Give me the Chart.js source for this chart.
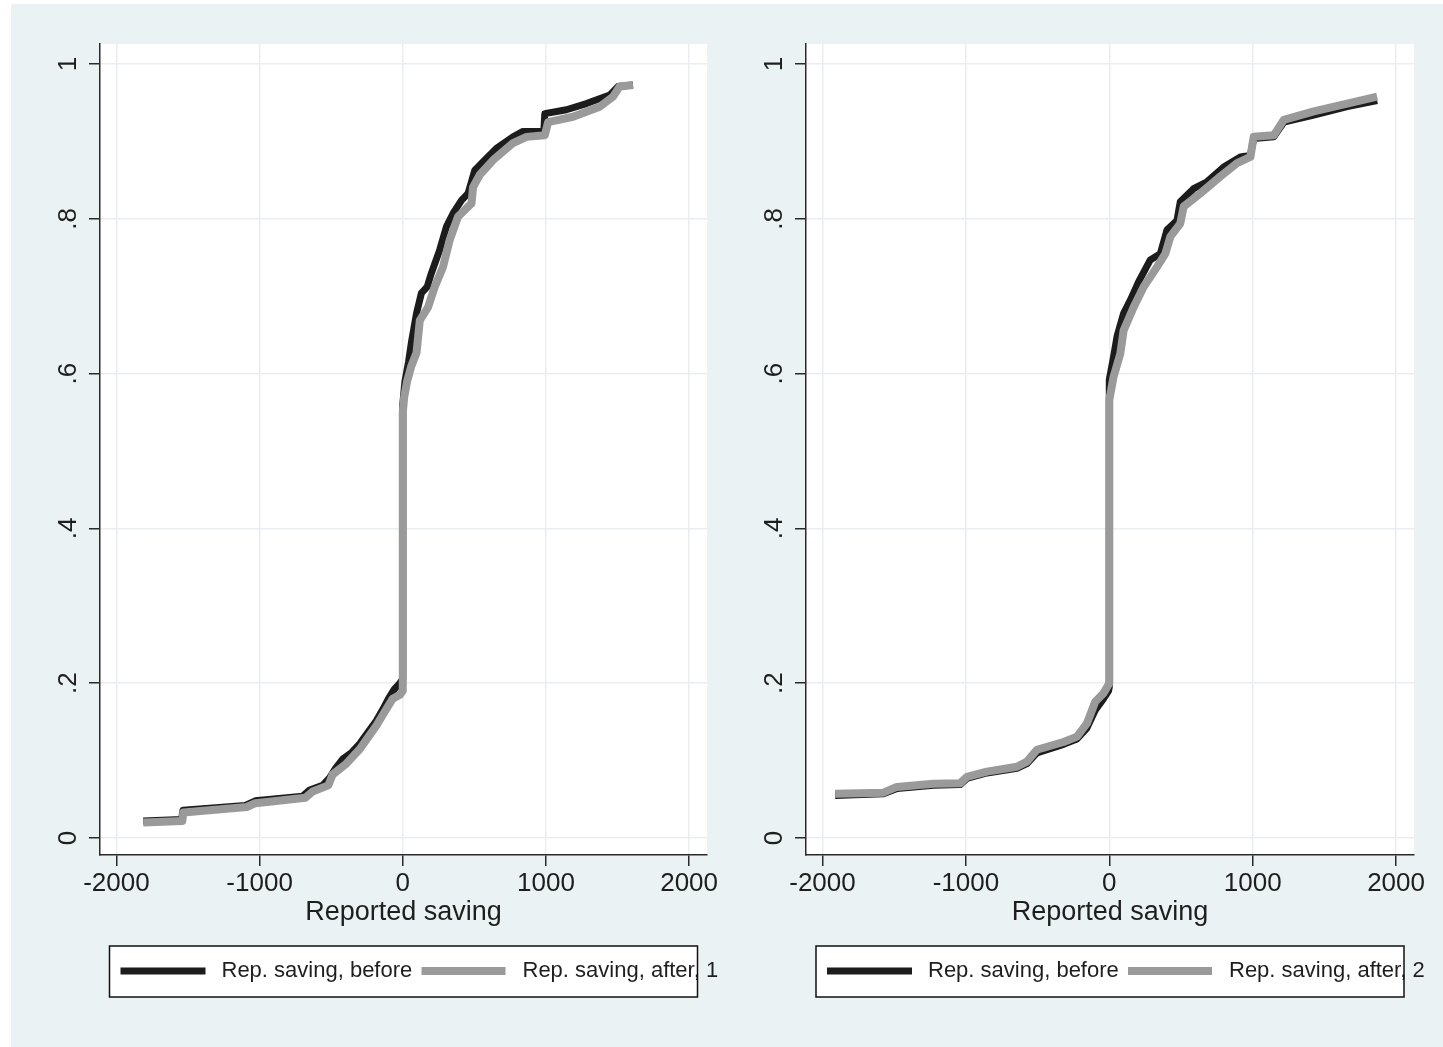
<!DOCTYPE html>
<html>
<head>
<meta charset="utf-8">
<title>Reported saving</title>
<script src="https://cdn.jsdelivr.net/npm/chart.js@4.4.1/dist/chart.umd.min.js"></script>
<style>
  html, body { margin: 0; padding: 0; background: #fff; }
  body { width: 1443px; height: 1047px; position: relative; overflow: hidden; }
  #bg { position: absolute; left: 11px; top: 4px; width: 1432px; height: 1043px; background: #eaf2f3; }
  canvas { position: absolute; top: 0; }
  #c1 { left: 0; }
  #c2 { left: 722px; }
</style>
</head>
<body>
<div id="bg"></div>
<canvas id="c1" width="722" height="1047"></canvas>
<canvas id="c2" width="721" height="1047"></canvas>
<script>
'use strict';

// tick values and labels
const xTicks = [-2000, -1000, 0, 1000, 2000];
const yTicks = [0, 0.2, 0.4, 0.6, 0.8, 1];
const yTickLabels = ['0', '.2', '.4', '.6', '.8', '1'];
const xTitle = 'Reported saving';

// left panel (wave 1)
const leftBeforeX = [-1813, -1545, -1535, -1100, -1030, -700, -650, -560, -510, -470, -420, -360, -300, -250, -190, -140, -100, -60, -20, -3, 0,
  0, 15, 40, 60, 96, 130, 170, 200, 258, 305, 351, 410, 456, 503, 584, 654, 770, 840, 985, 992, 1143, 1283, 1446, 1503, 1608];
const leftBeforeY = [0.022, 0.024, 0.036, 0.042, 0.048, 0.054, 0.062, 0.068, 0.078, 0.090, 0.102, 0.110, 0.122, 0.135, 0.150, 0.166, 0.180, 0.192, 0.200, 0.205, 0.21,
  0.56, 0.59, 0.615, 0.64, 0.678, 0.704, 0.712, 0.730, 0.760, 0.790, 0.807, 0.824, 0.833, 0.863, 0.878, 0.891, 0.906, 0.913, 0.913, 0.936, 0.941, 0.949, 0.960, 0.971, 0.973];
const leftAfterX = [-1813, -1540, -1533, -1090, -1030, -680, -630, -520, -490, -400, -300, -250, -185, -120, -70, -20, 0,
  0, 10, 30, 60, 96, 119, 177, 223, 281, 328, 386, 480, 491, 538, 631, 770, 864, 992, 1015, 1189, 1376, 1469, 1515, 1608];
const leftAfterY = [0.020, 0.022, 0.033, 0.040, 0.045, 0.052, 0.060, 0.068, 0.082, 0.095, 0.115, 0.128, 0.145, 0.165, 0.180, 0.185, 0.19,
  0.55, 0.57, 0.59, 0.61, 0.627, 0.669, 0.686, 0.712, 0.738, 0.773, 0.803, 0.820, 0.841, 0.857, 0.876, 0.898, 0.906, 0.908, 0.925, 0.932, 0.945, 0.958, 0.971, 0.973];

// right panel (wave 2)
const rightBeforeX = [-1912, -1575, -1480, -1226, -1040, -993, -853, -644, -574, -505, -319, -225, -156, -98, -40, -5, 0,
  0, 30, 54, 100, 147, 205, 286, 356, 403, 472, 495, 588, 682, 798, 914, 984, 1007, 1147, 1217, 1426, 1659, 1868];
const rightBeforeY = [0.055, 0.057, 0.064, 0.068, 0.069, 0.077, 0.084, 0.090, 0.096, 0.110, 0.121, 0.128, 0.142, 0.165, 0.180, 0.190, 0.195,
  0.592, 0.622, 0.648, 0.678, 0.695, 0.719, 0.747, 0.755, 0.786, 0.798, 0.822, 0.839, 0.848, 0.867, 0.880, 0.882, 0.904, 0.906, 0.925, 0.934, 0.945, 0.953];
const rightAfterX = [-1912, -1575, -1482, -1226, -1040, -993, -853, -644, -574, -505, -319, -225, -156, -98, -40, 0,
  0, 30, 77, 100, 170, 239, 333, 391, 426, 495, 519, 635, 775, 891, 984, 1007, 1147, 1217, 1426, 1659, 1868];
const rightAfterY = [0.057, 0.0585, 0.066, 0.070, 0.0707, 0.079, 0.0857, 0.092, 0.0986, 0.114, 0.124, 0.131, 0.148, 0.176, 0.187, 0.200,
  0.566, 0.596, 0.626, 0.656, 0.686, 0.712, 0.738, 0.755, 0.777, 0.794, 0.816, 0.833, 0.855, 0.872, 0.880, 0.906, 0.908, 0.928, 0.939, 0.949, 0.958];

const legendLeft = ['Rep. saving, before', 'Rep. saving, after, 1'];
const legendRight = ['Rep. saving, before', 'Rep. saving, after, 2'];

const FONT = '"Liberation Sans", Arial, sans-serif';
const textColor = '#1e1e1e';
const blackLine = '#1c1c1c';
const grayLine = '#9a9a9a';

function toPoints(xs, ys) {
  return xs.map((x, i) => ({ x, y: ys[i] }));
}

// white plot region, rotated y labels and the boxed legend
const stataPlugin = {
  id: 'stata',
  beforeDraw(chart) {
    const { ctx, chartArea: a } = chart;
    ctx.save();
    ctx.fillStyle = '#fff';
    ctx.fillRect(a.left, a.top, a.right - a.left, a.bottom - a.top);
    ctx.restore();
  },
  afterDraw(chart, args, opts) {
    const { ctx, chartArea: a } = chart;
    const yScale = chart.scales.y;
    ctx.save();
    ctx.fillStyle = textColor;
    ctx.font = '26px ' + FONT;
    ctx.textAlign = 'center';
    ctx.textBaseline = 'alphabetic';
    yTicks.forEach((v, i) => {
      ctx.save();
      ctx.translate(a.left - 24, yScale.getPixelForValue(v));
      ctx.rotate(-Math.PI / 2);
      ctx.fillText(yTickLabels[i], 0, 0);
      ctx.restore();
    });

    // legend
    const bw = 588, bh = 51;
    const bx = (a.left + a.right) / 2 - bw / 2;
    const by = 946;
    const my = by + 25;
    ctx.fillStyle = '#fff';
    ctx.fillRect(bx, by, bw, bh);
    ctx.lineCap = 'butt';
    ctx.lineWidth = 7;
    ctx.strokeStyle = blackLine;
    ctx.beginPath(); ctx.moveTo(bx + 11, my); ctx.lineTo(bx + 96, my); ctx.stroke();
    ctx.lineWidth = 8;
    ctx.strokeStyle = grayLine;
    ctx.beginPath(); ctx.moveTo(bx + 312, my); ctx.lineTo(bx + 396, my); ctx.stroke();
    ctx.fillStyle = textColor;
    ctx.font = '22px ' + FONT;
    ctx.textAlign = 'left';
    ctx.textBaseline = 'middle';
    ctx.fillText(opts.labels[0], bx + 112, my);
    ctx.fillText(opts.labels[1], bx + 413, my);
    ctx.lineWidth = 1.5;
    ctx.strokeStyle = '#111';
    ctx.strokeRect(bx, by, bw, bh);
    ctx.restore();
  }
};

function makeChart(canvasId, before, after, labels, yWidth, padRight) {
  const ctx = document.getElementById(canvasId).getContext('2d');
  return new Chart(ctx, {
    type: 'line',
    data: {
      datasets: [
        {
          label: labels[0],
          data: before,
          borderColor: blackLine,
          borderWidth: 7,
          pointRadius: 0,
          tension: 0,
          fill: false,
          borderJoinStyle: 'round',
          order: 1
        },
        {
          label: labels[1],
          data: after,
          borderColor: grayLine,
          borderWidth: 8,
          pointRadius: 0,
          tension: 0,
          fill: false,
          borderJoinStyle: 'round',
          order: 0
        }
      ]
    },
    options: {
      responsive: false,
      animation: false,
      layout: { padding: { top: 44, right: padRight, bottom: 118.1, left: 0 } },
      plugins: {
        legend: { display: false },
        tooltip: { enabled: false },
        stata: { labels }
      },
      scales: {
        x: {
          type: 'linear',
          min: -2115,
          max: 2125,
          afterBuildTicks: s => { s.ticks = xTicks.map(v => ({ value: v })); },
          afterFit: s => { s.height = 73.9; },
          border: { display: true, color: '#2a2a2a', width: 1.5 },
          grid: { color: '#ebeef0', lineWidth: 1.5, tickColor: '#2a2a2a', tickLength: 11 },
          ticks: {
            autoSkip: false,
            maxRotation: 0,
            padding: 2,
            color: textColor,
            font: { family: FONT, size: 26 },
            callback: v => String(v)
          },
          title: {
            display: true,
            text: xTitle,
            color: textColor,
            padding: 0,
            font: { family: FONT, size: 27, lineHeight: 1.2 }
          }
        },
        y: {
          type: 'linear',
          min: -0.022,
          max: 1.026,
          afterBuildTicks: s => { s.ticks = yTicks.map(v => ({ value: v })); },
          afterFit: s => { s.width = yWidth; },
          border: { display: true, color: '#2a2a2a', width: 1.5 },
          grid: { color: '#ebeef0', lineWidth: 1.5, tickColor: '#2a2a2a', tickLength: 11 },
          ticks: { display: false }
        }
      }
    },
    plugins: [stataPlugin]
  });
}

makeChart('c1', toPoints(leftBeforeX, leftBeforeY), toPoints(leftAfterX, leftAfterY), legendLeft, 100, 15);
makeChart('c2', toPoints(rightBeforeX, rightBeforeY), toPoints(rightAfterX, rightAfterY), legendRight, 84, 29);
</script>
</body>
</html>
